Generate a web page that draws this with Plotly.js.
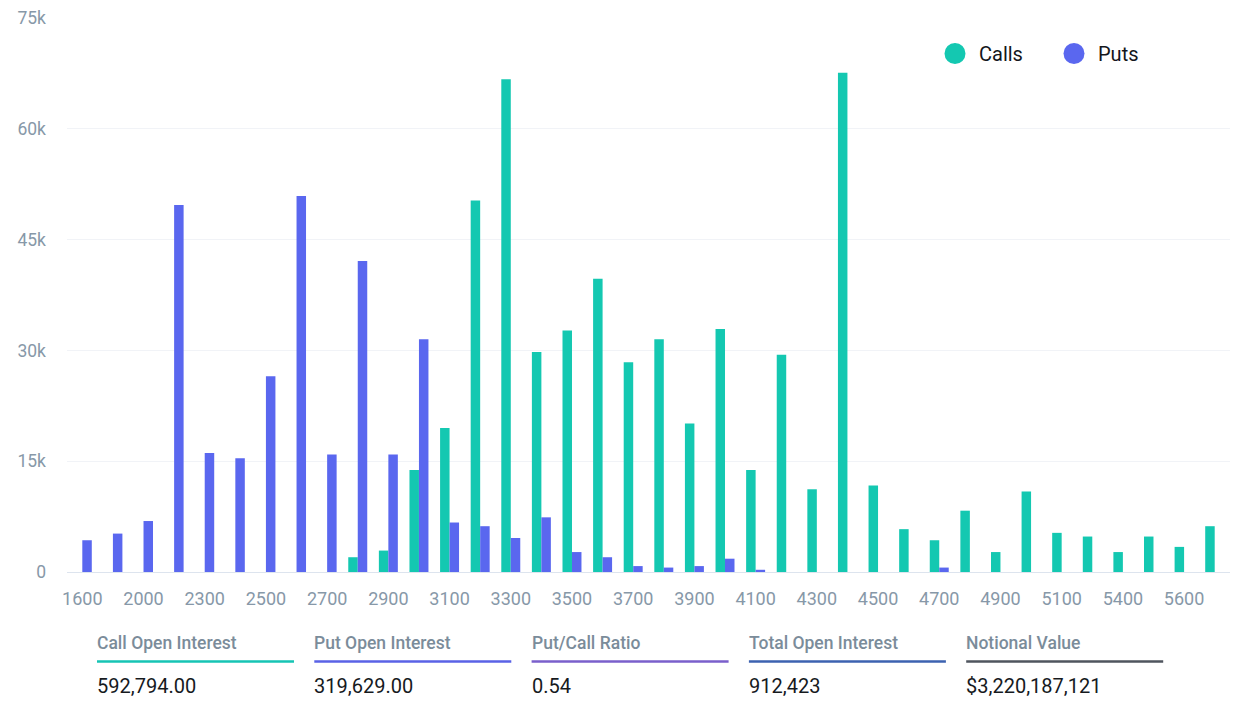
<!DOCTYPE html>
<html>
<head>
<meta charset="utf-8">
<script src="https://cdn.plot.ly/plotly-3.0.1.min.js"></script>
<style>
  html, body { margin: 0; padding: 0; background: #fff; }
  #oiDiv { width: 1242px; height: 718px; }
</style>
</head>
<body>
<div id="oiDiv"></div>
<script>
const strikes = ['1600', '1800', '2000', '2200', '2300', '2400', '2500', '2600', '2700', '2800',
    '2900', '3000', '3100', '3200', '3300', '3400', '3500', '3600', '3700', '3800',
    '3900', '4000', '4100', '4200', '4300', '4400', '4500', '4600', '4700', '4800',
    '4900', '5000', '5100', '5200', '5400', '5500', '5600', '5800'];

const callsOI = [0, 0, 0, 0, 0, 0, 0, 0, 0, 2000,
    2900, 13800, 19500, 50300, 66700, 29800, 32700, 39700, 28400, 31500,
    20100, 32900, 13800, 29400, 11200, 67600, 11700, 5800, 4300, 8300,
    2700, 10900, 5300, 4800, 2700, 4800, 3400, 6200];

const putsOI = [4300, 5200, 6900, 49700, 16100, 15400, 26500, 50900, 15900, 42100,
    15900, 31500, 6700, 6200, 4600, 7400, 2700, 2000, 800, 600,
    800, 1800, 300, 0, 0, 0, 0, 0, 600, 0,
    0, 0, 0, 0, 0, 0, 0, 0];

const seriesNames = ['Calls', 'Puts'];
const statLabels = ['Call Open Interest', 'Put Open Interest', 'Put/Call Ratio', 'Total Open Interest', 'Notional Value'];
const statValues = ['592,794.00', '319,629.00', '0.54', '912,423', '$3,220,187,121'];
const statColors = ['#16c4b4', '#5a62e6', '#7a5fcb', '#3c62b0', '#4f555e'];

const callColor = '#14c8b1';
const putColor = '#5a67ef';
const tickGray = '#8798a8';

// plot area in pixels, used to place legend and footer in paper units
const plotLeft = 67, plotRight = 1230, plotTop = 18, plotBottom = 572;
const pw = plotRight - plotLeft, ph = plotBottom - plotTop;
const px = x => (x - plotLeft) / pw;
const py = y => (plotBottom - y) / ph;

const callTrace = {
    type: 'bar',
    name: seriesNames[0],
    x: strikes,
    y: callsOI,
    marker: { color: callColor },
    hoverinfo: 'skip'
};
const putTrace = {
    type: 'bar',
    name: seriesNames[1],
    x: strikes,
    y: putsOI,
    marker: { color: putColor },
    hoverinfo: 'skip'
};

const annotations = [];
const shapes = [];

// custom legend with big round keys
[[955, callColor], [1074, putColor]].forEach(([cx, col], i) => {
    shapes.push({
        type: 'circle', xref: 'paper', yref: 'paper',
        xsizemode: 'pixel', ysizemode: 'pixel',
        xanchor: px(cx), yanchor: py(53.5),
        x0: -10.5, x1: 10.5, y0: -10.5, y1: 10.5,
        fillcolor: col, line: { width: 0 }
    });
    annotations.push({
        xref: 'paper', yref: 'paper', x: px(cx + 22), y: py(54),
        xanchor: 'left', yanchor: 'middle', showarrow: false,
        text: seriesNames[i],
        font: { family: 'Roboto', size: 20, color: '#14171c' }
    });
});

statLabels.forEach((lbl, i) => {
    const x0 = 97 + 217.3 * i;
    annotations.push({
        xref: 'paper', yref: 'paper', x: px(x0 - 2), y: py(643),
        xanchor: 'left', yanchor: 'middle', showarrow: false,
        text: lbl,
        font: { family: 'Roboto', size: 17.5, color: '#7b8c9a', weight: 500 }
    });
    annotations.push({
        xref: 'paper', yref: 'paper', x: px(x0 - 2), y: py(686),
        xanchor: 'left', yanchor: 'middle', showarrow: false,
        text: statValues[i],
        font: { family: 'Roboto', size: 20, color: '#161a1e' }
    });
    shapes.push({
        type: 'line', xref: 'paper', yref: 'paper',
        x0: px(x0), x1: px(x0 + 197), y0: py(661.5), y1: py(661.5),
        line: { color: statColors[i], width: 2.5 }
    });
});

const data = [callTrace, putTrace];
const layout = {
    width: 1242,
    height: 718,
    margin: { t: plotTop, r: 1242 - plotRight, l: plotLeft, b: 718 - plotBottom },
    paper_bgcolor: '#ffffff',
    plot_bgcolor: '#ffffff',
    font: { family: 'Roboto', color: tickGray },
    showlegend: false,
    barmode: 'group',
    bargap: 0.38,
    bargroupgap: 0,
    xaxis: {
        type: 'category',
        categoryorder: 'array',
        categoryarray: strikes,
        tickmode: 'array',
        tickvals: strikes.filter((s, i) => i % 2 === 0),
        tickfont: { family: 'Roboto', size: 18, color: tickGray },
        ticks: '',
        ticklabelstandoff: 10,
        showgrid: false,
        showline: true,
        linecolor: '#dde4ee',
        linewidth: 1,
        fixedrange: true
    },
    yaxis: {
        range: [0, 75000],
        tickmode: 'linear',
        tick0: 0,
        dtick: 15000,
        tickformat: '~s',
        tickfont: { family: 'Roboto', size: 17.5, color: tickGray },
        ticks: '',
        ticklabelstandoff: 20,
        gridcolor: '#f1f3f7',
        gridwidth: 1,
        zeroline: false,
        fixedrange: true
    },
    annotations: annotations,
    shapes: shapes
};

Plotly.newPlot('oiDiv', data, layout, { displayModeBar: false, staticPlot: true });
</script>
</body>
</html>
